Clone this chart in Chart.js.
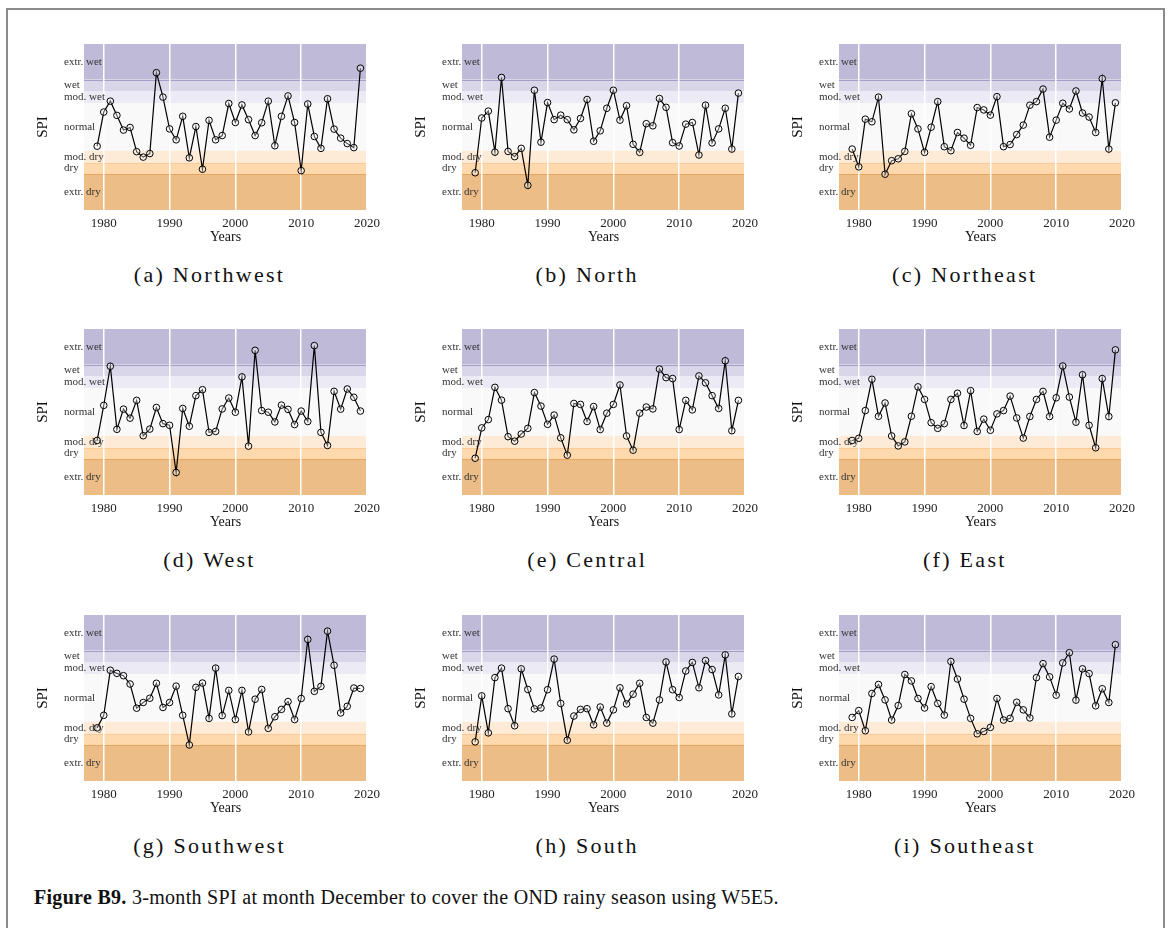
<!DOCTYPE html>
<html>
<head>
<meta charset="utf-8">
<script src="https://cdn.jsdelivr.net/npm/chart.js@4.4.1/dist/chart.umd.min.js"></script>
<style>
body{margin:0;background:#fff;width:1172px;height:928px;overflow:hidden;position:relative;font-family:"Liberation Serif",serif;}
#frame{position:absolute;left:6px;top:8px;width:1155px;height:940px;border:2px solid #8c8c8c;}
canvas{position:absolute;}
.sub{position:absolute;width:300px;text-align:center;font-size:22px;letter-spacing:2.3px;color:#111;line-height:24px;}
#caption{position:absolute;left:34px;top:886px;font-size:20px;letter-spacing:0.3px;color:#111;white-space:nowrap;}
</style>
</head>
<body>
<div id="frame"></div>
<div id="caption"><b>Figure B9.</b> 3-month SPI at month December to cover the OND rainy season using W5E5.</div>
<script>
const YEARS = [1979,1980,1981,1982,1983,1984,1985,1986,1987,1988,1989,1990,1991,1992,1993,1994,1995,1996,1997,1998,1999,2000,2001,2002,2003,2004,2005,2006,2007,2008,2009,2010,2011,2012,2013,2014,2015,2016,2017,2018,2019];

const X_TICKS = [1980,1990,2000,2010,2020];

const BAND_EDGES = [3.5,2,1.5,1,-1,-1.5,-2,-3.5];

const BAND_NAMES = ["extr. wet","wet","mod. wet","normal","mod. dry","dry","extr. dry"];

const TITLES = ["(a) Northwest","(b) North","(c) Northeast","(d) West","(e) Central","(f) East","(g) Southwest","(h) South","(i) Southeast"];

const NORTHWEST = [-0.81,0.63,1.09,0.49,-0.13,-0.02,-1.04,-1.27,-1.12,2.29,1.26,-0.08,-0.54,0.45,-1.30,0.02,-1.78,0.28,-0.54,-0.36,0.99,0.19,0.93,0.31,-0.36,0.18,1.09,-0.79,0.45,1.31,0.19,-1.84,0.97,-0.40,-0.90,1.19,-0.09,-0.47,-0.70,-0.87,2.48];
const NORTH = [-1.93,0.38,0.67,-1.06,2.09,-1.03,-1.25,-0.90,-2.46,1.55,-0.64,1.03,0.31,0.50,0.31,-0.12,0.36,1.16,-0.60,-0.16,0.79,1.55,0.29,0.90,-0.73,-1.07,0.14,0.05,1.20,0.83,-0.66,-0.80,0.12,0.19,-1.18,0.92,-0.67,-0.08,0.79,-0.93,1.43];
const NORTHEAST = [-0.93,-1.68,0.33,0.22,1.26,-1.99,-1.42,-1.34,-1.03,0.56,-0.08,-1.07,-0.01,1.07,-0.83,-1.00,-0.23,-0.47,-0.77,0.82,0.72,0.50,1.28,-0.83,-0.74,-0.32,0.08,0.92,1.07,1.60,-0.43,0.29,1.00,0.76,1.52,0.59,0.42,-0.23,2.04,-0.93,1.02];
const WEST = [-1.20,0.28,1.93,-0.73,0.12,-0.26,0.49,-1.00,-0.72,0.19,-0.49,-0.56,-2.55,0.15,-0.60,0.69,0.94,-0.86,-0.82,0.13,0.59,-0.01,1.48,-1.44,2.60,0.06,-0.01,-0.42,0.29,0.11,-0.53,0.04,-0.40,2.80,-0.86,-1.41,0.87,0.12,0.97,0.62,0.04];
const CENTRAL = [-1.95,-0.67,-0.32,1.04,0.50,-1.04,-1.23,-0.93,-0.69,0.82,0.25,-0.52,-0.13,-1.09,-1.82,0.36,0.32,-0.40,0.23,-0.74,-0.05,0.32,1.14,-1.01,-1.61,-0.05,0.21,0.13,1.81,1.45,1.41,-0.74,0.49,0.09,1.52,1.23,0.69,0.15,2.16,-0.79,0.49];
const EAST = [-1.20,-1.11,0.06,1.38,-0.18,0.38,-1.01,-1.43,-1.26,-0.18,1.06,0.53,-0.45,-0.69,-0.49,0.53,0.79,-0.57,0.90,-0.82,-0.30,-0.77,-0.08,0.06,0.67,-0.25,-1.10,-0.19,0.53,0.87,-0.19,0.60,1.94,0.63,-0.43,1.57,-0.56,-1.51,1.41,-0.19,2.62];
const SOUTHWEST = [-1.26,-0.73,1.17,1.04,0.94,0.59,-0.43,-0.19,-0.01,0.62,-0.40,-0.19,0.50,-0.73,-1.98,0.45,0.63,-0.86,1.26,-0.74,0.32,-0.91,0.32,-1.43,-0.05,0.36,-1.28,-0.79,-0.48,-0.15,-0.91,-0.02,2.47,0.28,0.49,2.82,1.38,-0.63,-0.35,0.42,0.40];
const SOUTH = [-1.85,0.09,-1.47,0.86,1.26,-0.45,-1.17,1.23,0.36,-0.46,-0.42,0.35,1.64,-0.23,-1.78,-0.76,-0.48,-0.45,-1.13,-0.38,-1.06,-0.50,0.43,-0.25,0.16,0.62,-0.82,-1.06,-0.08,1.52,0.35,0.02,1.14,1.50,0.43,1.58,1.20,0.13,1.82,-0.67,0.91];
const SOUTHEAST = [-0.82,-0.53,-1.38,0.19,0.57,-0.08,-0.93,-0.32,0.99,0.72,-0.02,-0.42,0.48,-0.23,-0.72,1.54,0.80,-0.05,-0.86,-1.51,-1.41,-1.24,-0.02,-0.93,-0.86,-0.18,-0.50,-0.84,0.86,1.45,0.89,0.12,1.48,1.91,-0.09,1.23,1.03,-0.33,0.39,-0.19,2.25];

const SERIES = [NORTHWEST,NORTH,NORTHEAST,WEST,CENTRAL,EAST,SOUTHWEST,SOUTH,SOUTHEAST];

// styling / layout
const BAND_COLORS = ["#bebad8","#d9d6e9","#ebeaf5","#f9f9f9","#fdebd8","#fed9ae","#edbd87"];
const EDGE_COLORS = {"2":"#a39ec6","-1.5":"#f8cb98","-2":"#e8a55f"};
const COL_LEFT = [84,461.7,839.3];
const ROW_TOP = [44,329,615];
const PLOT_W = 283;
const PLOT_H = 166;
const AXIS_W = 54;
const PAD_TOP = 14;
const PAD_RIGHT = 16;
const AXIS_H = 40;

const bandsPlugin = {
    id:"bands",
    beforeDraw(chart){
        const {ctx,chartArea} = chart;
        const y = chart.scales.y;
        ctx.save();
        for(let i=0;i<BAND_NAMES.length;i++){
            const top = y.getPixelForValue(BAND_EDGES[i]);
            const bottom = y.getPixelForValue(BAND_EDGES[i+1]);
            ctx.fillStyle = BAND_COLORS[i];
            ctx.fillRect(chartArea.left,top,chartArea.right-chartArea.left,bottom-top);
        }
        Object.keys(EDGE_COLORS).forEach(v=>{
            const py = Math.round(y.getPixelForValue(Number(v)))+0.5;
            ctx.strokeStyle = EDGE_COLORS[v];
            ctx.lineWidth = 1;
            ctx.beginPath();
            ctx.moveTo(chartArea.left,py);
            ctx.lineTo(chartArea.right,py);
            ctx.stroke();
        });
        ctx.restore();
    },
    beforeDatasetsDraw(chart){
        const {ctx,chartArea} = chart;
        const y = chart.scales.y;
        ctx.save();
        ctx.font = "11px 'Liberation Serif'";
        ctx.fillStyle = "#333";
        ctx.textAlign = "left";
        ctx.textBaseline = "middle";
        for(let i=0;i<BAND_NAMES.length;i++){
            const mid = y.getPixelForValue((BAND_EDGES[i]+BAND_EDGES[i+1])/2);
            ctx.fillText(BAND_NAMES[i],chartArea.left-20,mid);
        }
        ctx.restore();
    }
};

function drawPanel(index){
    const col = index%3;
    const row = Math.floor(index/3);
    const left = COL_LEFT[col]-AXIS_W;
    const top = ROW_TOP[row]-PAD_TOP;

    const canvas = document.createElement("canvas");
    canvas.width = AXIS_W+PLOT_W+PAD_RIGHT;
    canvas.height = PAD_TOP+PLOT_H+AXIS_H;
    canvas.style.left = left+"px";
    canvas.style.top = top+"px";
    document.body.appendChild(canvas);

    const title = document.createElement("div");
    title.className = "sub";
    title.textContent = TITLES[index];
    title.style.left = (COL_LEFT[col]+PLOT_W/2-16-150)+"px";
    title.style.top = (ROW_TOP[row]+PLOT_H+53)+"px";
    document.body.appendChild(title);

    const values = SERIES[index];

    new Chart(canvas.getContext("2d"),{
        type:"line",
        data:{
            datasets:[{
                data:YEARS.map((yr,i)=>({x:yr,y:values[i]})),
                borderColor:"#000",
                borderWidth:1.2,
                pointRadius:3.3,
                pointBorderWidth:1,
                pointBorderColor:"#000",
                pointBackgroundColor:"rgba(255,255,255,0.35)",
                tension:0
            }]
        },
        options:{
            responsive:false,
            animation:false,
            devicePixelRatio:1,
            layout:{padding:{top:PAD_TOP,right:PAD_RIGHT,left:0,bottom:0}},
            plugins:{legend:{display:false},tooltip:{enabled:false}},
            scales:{
                x:{
                    type:"linear",
                    min:1977,
                    max:2020,
                    afterBuildTicks:s=>{ s.ticks = X_TICKS.map(v=>({value:v})); },
                    afterFit:s=>{ s.height = AXIS_H; s.paddingLeft = 0; s.paddingRight = 0; },
                    grid:{color:"#ffffff",lineWidth:1.5,drawTicks:false},
                    border:{display:false},
                    ticks:{
                        padding:6,
                        maxRotation:0,
                        color:"#222",
                        font:{family:"Liberation Serif",size:13},
                        callback:v=>String(v)
                    },
                    title:{
                        display:true,
                        text:"Years",
                        color:"#111",
                        padding:{top:0,bottom:4},
                        font:{family:"Liberation Serif",size:14}
                    }
                },
                y:{
                    min:-3.5,
                    max:3.5,
                    afterFit:s=>{ s.width = AXIS_W; s.paddingTop = 0; s.paddingBottom = 0; },
                    grid:{display:false},
                    border:{display:false},
                    ticks:{display:false},
                    title:{
                        display:true,
                        text:"SPI",
                        color:"#111",
                        padding:{top:4,bottom:0},
                        font:{family:"Liberation Serif",size:15}
                    }
                }
            }
        },
        plugins:[bandsPlugin]
    });
}

SERIES.forEach((s,i)=>drawPanel(i));
</script>
</body>
</html>
